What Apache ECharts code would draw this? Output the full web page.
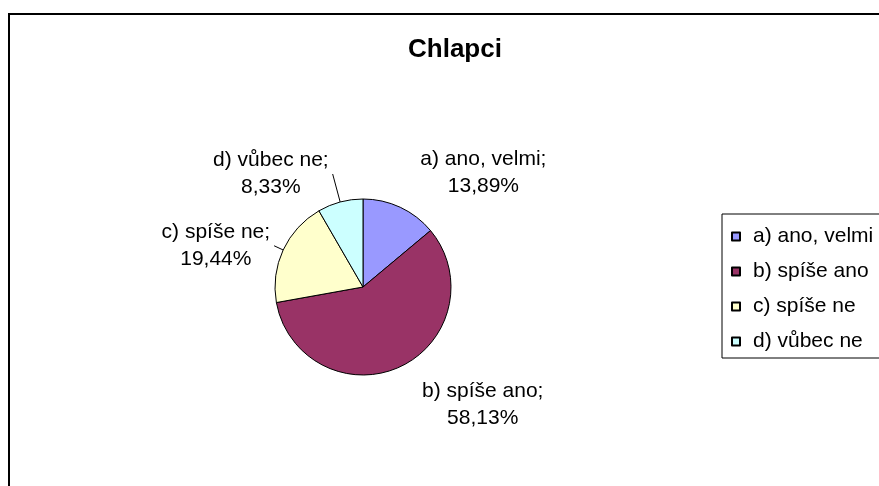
<!DOCTYPE html>
<html>
<head>
<meta charset="utf-8">
<script src="https://cdn.jsdelivr.net/npm/echarts@6/dist/echarts.min.js"></script>
<style>
  html, body { margin: 0; padding: 0; background: #fff; }
  #chart { width: 879px; height: 486px; }
</style>
</head>
<body>
<div id="chart"></div>
<script>
const categories = ['a) ano, velmi', 'b) spíše ano', 'c) spíše ne', 'd) vůbec ne'];
const shares = [13.89, 58.13, 19.44, 8.33];
const colors = ['#9999FF', '#993366', '#FFFFCC', '#CCFFFF'];

// leader line per slice: [length, length2, visible]
const leaders = [[38, 0, false], [42, 0, false], [10, 0, true], [29, 0, true]];

const font = '"Liberation Sans", Arial, sans-serif';

let chart = echarts.init(document.getElementById('chart'));

let option = {
    animation: false,
    backgroundColor: '#ffffff',
    title: {
        text: 'Chlapci',
        left: 403,
        top: 32,
        textStyle: { fontFamily: font, fontSize: 26, fontWeight: 'bold', color: '#000' }
    },
    graphic: [{
        type: 'rect',
        shape: { x: 9, y: 14, width: 900, height: 500 },
        style: { fill: 'none', stroke: '#000', lineWidth: 2 },
        silent: true
    }],
    legend: {
        orient: 'vertical',
        left: 722,
        top: 214,
        padding: [12, 60, 6, 9],
        itemGap: 14,
        itemWidth: 8,
        itemHeight: 8,
        icon: 'rect',
        borderColor: '#000',
        borderWidth: 1,
        data: categories,
        textStyle: { fontFamily: font, fontSize: 21, color: '#000', lineHeight: 21, padding: [0, 0, 0, 8] }
    },
    series: [{
        type: 'pie',
        center: [363, 287],
        radius: 88,
        startAngle: 90,
        clockwise: true,
        avoidLabelOverlap: false,
        itemStyle: { borderColor: '#000', borderWidth: 1 },
        label: {
            show: true,
            position: 'outside',
            alignTo: 'none',
            distanceToLabelLine: 4,
            fontFamily: font,
            fontSize: 21,
            lineHeight: 27,
            color: '#000',
            formatter: p => p.name + ';\n' + p.value.toFixed(2).replace('.', ',') + '%'
        },
        labelLayout: p => ({
            align: 'center',
            dx: p.align === 'left' ? p.labelRect.width / 2 : -p.labelRect.width / 2
        }),
        data: categories.map((name, i) => ({
            name: name,
            value: shares[i],
            itemStyle: { color: colors[i] },
            labelLine: {
                show: leaders[i][2],
                length: leaders[i][0],
                length2: leaders[i][1],
                lineStyle: { color: '#000', width: 1 }
            }
        }))
    }]
};

option && chart.setOption(option);
</script>
</body>
</html>
